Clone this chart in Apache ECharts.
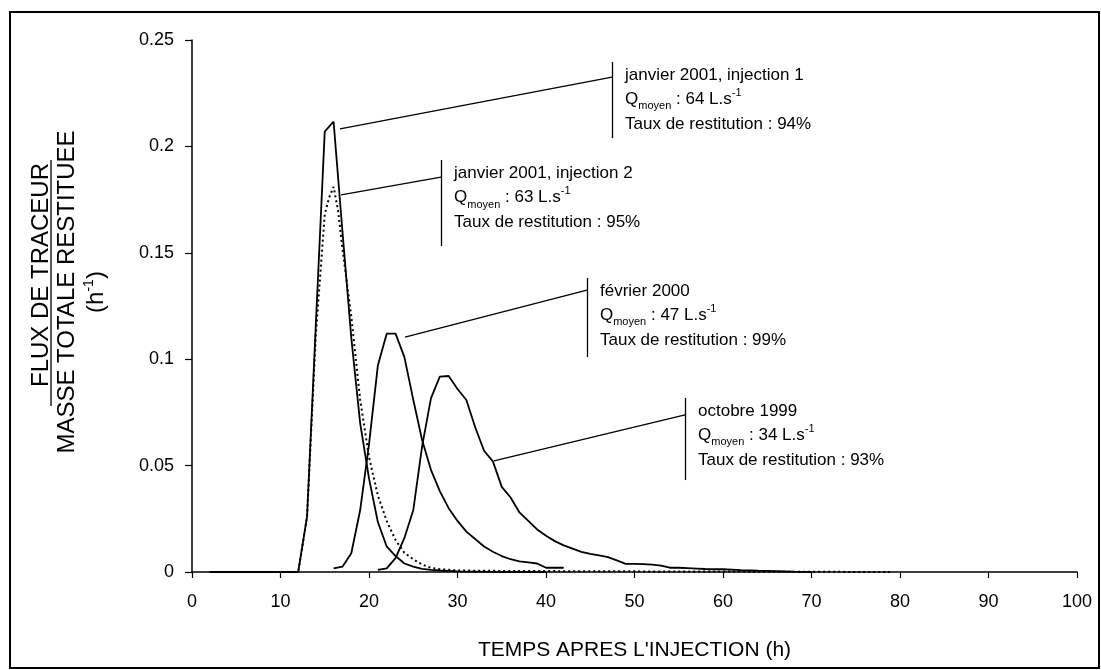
<!DOCTYPE html>
<html>
<head>
<meta charset="utf-8">
<script src="https://cdn.jsdelivr.net/npm/echarts@6/dist/echarts.min.js"></script>
<style>
html,body{margin:0;padding:0;background:#fff;}
#main{width:1101px;height:670px;}
</style>
</head>
<body>
<div id="main"></div>
<script>
// temps apres injection (h)
var tInj1 = [2,12,13,14,15,16,17,18,19,20,21,22,23,24,25,26,27,28,30,34,40];
var vInj1 = [0,0,0.026,0.117,0.207,0.2116,0.16,0.11,0.07,0.044,0.0235,0.012,0.0075,0.004,0.0025,0.0015,0.001,0.0007,0.0003,0.0001,0];
var tInj2 = [2,12,13,14,15,15.5,16,16.5,17,18,19,20,21,22,23,24,25,26,27,28,29,30,35,42,50,60,70,79];
var vInj2 = [0,0,0.026,0.112,0.168,0.176,0.181,0.17,0.152,0.12,0.081,0.054,0.036,0.024,0.015,0.009,0.006,0.0035,0.002,0.0013,0.001,0.0007,0.0005,0.0004,0.0003,0.0002,0.0001,0];
var tFev = [16,17,18,19,20,21,22,23,24,25,26,27,28,29,30,31,32,33,34,35,36,37,38,39,40,41,42];
var vFev = [0.0017,0.0025,0.0088,0.029,0.06,0.097,0.112,0.112,0.101,0.081,0.062,0.048,0.038,0.03,0.024,0.019,0.0155,0.012,0.0095,0.0075,0.006,0.005,0.0045,0.004,0.002,0.002,0.002];
var tOct = [21,22,23,24,25,26,27,28,29,30,31,32,33,34,35,36,37,38,39,40,41,42,43,44,45,46,47,48,49,50,51,52,53,54,55,56,57,58,59,60,62,64,66,68,70];
var vOct = [0.001,0.0017,0.0065,0.016,0.029,0.059,0.0816,0.0918,0.0921,0.086,0.0808,0.068,0.057,0.052,0.04,0.035,0.028,0.024,0.02,0.017,0.0145,0.0125,0.011,0.0095,0.0085,0.0078,0.007,0.0055,0.0038,0.0038,0.0037,0.0035,0.003,0.002,0.002,0.0018,0.0016,0.0014,0.0013,0.0013,0.0009,0.0006,0.0004,0.0002,0.0001];

// annotations
var annTitre = ['janvier 2001, injection 1','janvier 2001, injection 2','février 2000','octobre 1999'];
var annQ = [64,63,47,34];
var annTaux = [94,95,99,93];
var annDepart = [[16.72,0.2082],[16.84,0.1772],[24.07,0.1104],[34.12,0.0522]];
var annBarreT = [47.46,28.14,44.63,55.71];
var annJonction = [0.2326,0.1856,0.1325,0.0738];
var annBarreHaut = [0.2397,0.1936,0.1382,0.0818];
var annBarreBas = [0.2039,0.1532,0.1010,0.0432];

var police = "'Liberation Sans', Arial, sans-serif";

function paires(t, v){
	var d = [];
	for(var i=0;i<t.length;i++){ d.push([t[i], v[i]]); }
	return d;
}

var lignes = [];
for(var i=0;i<annTitre.length;i++){
	lignes.push([{coord:annDepart[i]},{coord:[annBarreT[i],annJonction[i]]}]);
	lignes.push([{coord:[annBarreT[i],annBarreHaut[i]]},{coord:[annBarreT[i],annBarreBas[i]]}]);
}

var chart = echarts.init(document.getElementById('main'));
var trait = {color:'#000', width:1.8};
var option = {
	animation:false,
	backgroundColor:'#fff',
	grid:{left:192, right:24, top:40, bottom:98, containLabel:false, outerBoundsMode:'none'},
	xAxis:{
		type:'value', min:0, max:100, interval:10,
		name:"TEMPS APRES L'INJECTION (h)",
		nameLocation:'middle', nameGap:68,
		nameTextStyle:{color:'#000', fontSize:21, fontFamily:police},
		axisLine:{show:true, onZero:false, lineStyle:{color:'#000', width:1.5}},
		axisTick:{show:true, inside:false, length:6, lineStyle:{color:'#000', width:1.2}},
		axisLabel:{color:'#000', fontSize:18, fontFamily:police, margin:21},
		splitLine:{show:false}
	},
	yAxis:{
		type:'value', min:0, max:0.25, interval:0.05,
		axisLine:{show:true, lineStyle:{color:'#000', width:1.5}},
		axisTick:{show:true, inside:false, length:7, lineStyle:{color:'#000', width:1.2}},
		axisLabel:{color:'#000', fontSize:18, fontFamily:police, margin:18},
		splitLine:{show:false}
	},
	series:[
		{name:'janvier 2001, injection 1', type:'line', data:paires(tInj1,vInj1), symbol:'none', lineStyle:trait, z:3},
		{name:'février 2000', type:'line', data:paires(tFev,vFev), symbol:'none', lineStyle:trait, z:3},
		{name:'octobre 1999', type:'line', data:paires(tOct,vOct), symbol:'none', lineStyle:trait, z:3,
			markLine:{
				silent:true, symbol:['none','none'], animation:false,
				label:{show:false},
				lineStyle:{color:'#000', type:'solid', width:1.3},
				emphasis:{disabled:true},
				data:lignes
			}
		},
		{name:'janvier 2001, injection 2', type:'line', data:paires(tInj2,vInj2), symbol:'none',
			lineStyle:{color:'#000', width:2, type:[2,3]}, z:4}
	]
};
chart.setOption(option);

// textes
var graphiques = [];
var riche = {
	n:{fontSize:17, lineHeight:24.5, fontFamily:police, fill:'#000'},
	sub:{fontSize:11, lineHeight:12, verticalAlign:'bottom', fontFamily:police, fill:'#000'},
	sup:{fontSize:11, lineHeight:14, verticalAlign:'top', fontFamily:police, fill:'#000'}
};
for(var j=0;j<annTitre.length;j++){
	var p = chart.convertToPixel({gridIndex:0}, [annBarreT[j], annBarreHaut[j]]);
	graphiques.push({
		type:'text', x:p[0]+13, y:p[1]+1, silent:true,
		style:{
			text:'{n|'+annTitre[j]+'}\n{n|Q}{sub|moyen}{n| : '+annQ[j]+' L.s}{sup|-1}\n{n|Taux de restitution : '+annTaux[j]+'%}',
			rich:riche, align:'left', verticalAlign:'top'
		}
	});
}
// titre axe y
graphiques.push({type:'text', x:41, y:275, rotation:Math.PI/2, silent:true,
	style:{text:'FLUX DE TRACEUR', fontSize:24, fontFamily:police, fill:'#000', align:'center', verticalAlign:'middle'}});
graphiques.push({type:'line', silent:true, shape:{x1:51, y1:160, x2:51, y2:406}, style:{stroke:'#000', lineWidth:1.3}});
graphiques.push({type:'text', x:67, y:292, rotation:Math.PI/2, silent:true,
	style:{text:'MASSE TOTALE RESTITUEE', fontSize:24, fontFamily:police, fill:'#000', align:'center', verticalAlign:'middle'}});
graphiques.push({type:'text', x:96, y:292, rotation:Math.PI/2, silent:true,
	style:{text:'{a|(h}{s|-1}{a|)}', align:'center', verticalAlign:'middle',
		rich:{a:{fontSize:24, lineHeight:28, fontFamily:police, fill:'#000'},
			s:{fontSize:14, lineHeight:16, verticalAlign:'top', fontFamily:police, fill:'#000'}}}});
// cadre
graphiques.push({type:'rect', silent:true, shape:{x:10, y:12, width:1089, height:656},
	style:{fill:'none', stroke:'#000', lineWidth:2}});
chart.setOption({graphic:graphiques});
</script>
</body>
</html>
